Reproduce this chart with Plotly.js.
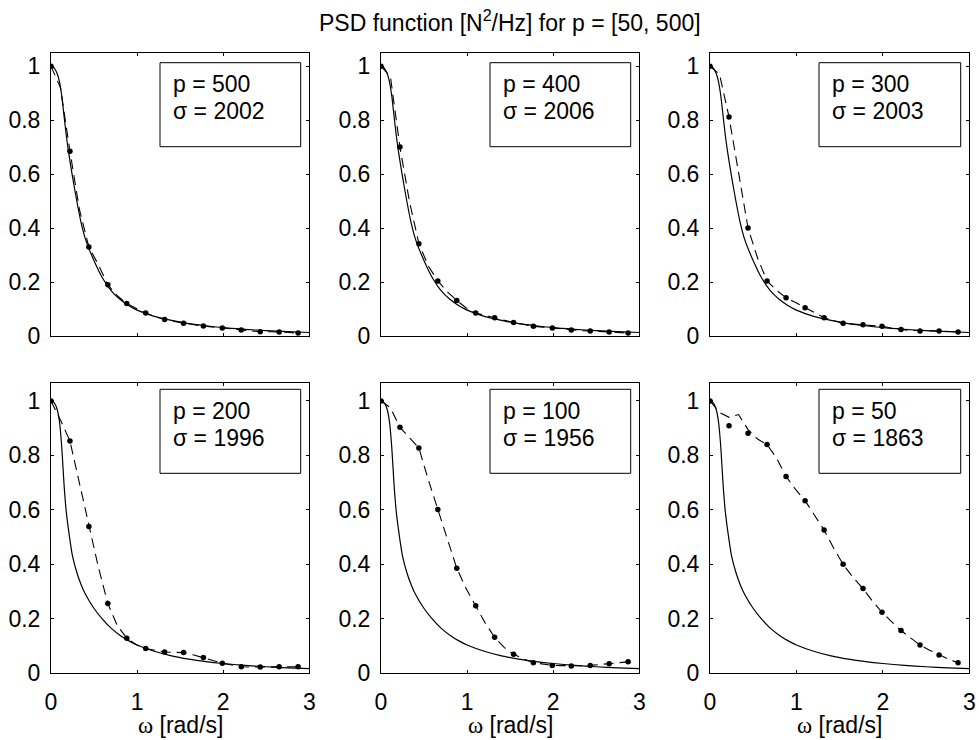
<!DOCTYPE html>
<html>
<head>
<meta charset="utf-8">
<script src="https://cdn.plot.ly/plotly-3.0.1.min.js"></script>
<style>html,body{margin:0;padding:0;background:#fff}#chart{width:979px;height:740px}</style>
</head>
<body>
<div id="chart"></div>
<script>
// ---------- data ----------
const pValues = [500, 400, 300, 200, 100, 50];
const sigmaValues = [2002, 2006, 2003, 1996, 1956, 1863];

// theoretical PSD (solid line)
const omegaTheory = [0,0.025,0.05,0.075,0.1,0.125,0.15,0.175,0.2,0.25,0.3,0.35,0.4,0.5,0.6,0.7,0.8,0.9,1.0,1.2,1.4,1.6,1.8,2.0,2.25,2.5,2.75,3.0];
const psdTheoryTop = [1,0.997,0.987,0.97,0.94,0.89,0.82,0.75,0.69,0.59,0.50,0.42,0.36,0.28,0.215,0.168,0.137,0.114,0.097,0.074,0.059,0.047,0.039,0.032,0.026,0.021,0.017,0.014];
const psdTheoryBottom = [1,0.997,0.987,0.965,0.92,0.83,0.70,0.60,0.535,0.43,0.37,0.325,0.29,0.238,0.198,0.165,0.14,0.12,0.104,0.081,0.064,0.052,0.043,0.036,0.029,0.024,0.020,0.017];

// estimated PSD (dashed line)
const omegaDash = [0,0.11,0.22,0.33,0.44,0.55,0.66,0.77,0.88,0.99,1.10,1.21,1.32,1.43,1.54,1.66,1.77,1.88,1.99,2.10,2.21,2.32,2.43,2.54,2.65,2.76,2.87];
const dashP500 = [1,0.92,0.685,0.47,0.331,0.265,0.191,0.150,0.121,0.102,0.086,0.073,0.062,0.055,0.048,0.043,0.038,0.034,0.031,0.027,0.023,0.020,0.017,0.017,0.016,0.014,0.012];
const dashP400 = [1,0.96,0.701,0.50,0.343,0.26,0.205,0.165,0.133,0.105,0.086,0.077,0.069,0.060,0.051,0.044,0.037,0.034,0.031,0.027,0.023,0.021,0.020,0.018,0.016,0.014,0.012];
const dashP300 = [1,0.97,0.812,0.60,0.401,0.29,0.205,0.17,0.143,0.125,0.106,0.086,0.069,0.058,0.048,0.045,0.043,0.040,0.037,0.031,0.025,0.022,0.020,0.020,0.020,0.018,0.016];
const dashP200 = [1,0.93,0.853,0.70,0.539,0.39,0.256,0.175,0.129,0.105,0.091,0.084,0.078,0.077,0.076,0.067,0.058,0.047,0.037,0.030,0.024,0.023,0.023,0.023,0.024,0.024,0.024];
const dashP100 = [1,0.975,0.903,0.865,0.827,0.71,0.601,0.49,0.386,0.31,0.248,0.185,0.132,0.095,0.070,0.052,0.039,0.033,0.029,0.028,0.027,0.028,0.029,0.032,0.035,0.039,0.042];
const dashP50  = [1,0.958,0.94,0.95,0.895,0.86,0.84,0.79,0.723,0.675,0.634,0.58,0.526,0.46,0.40,0.35,0.311,0.265,0.224,0.19,0.157,0.13,0.104,0.085,0.067,0.052,0.039];

// sampled estimates (dots)
const omegaDots = [0,0.22,0.44,0.66,0.88,1.10,1.32,1.54,1.77,1.99,2.21,2.43,2.65,2.87];
const dotsP500 = [1,0.685,0.331,0.191,0.121,0.086,0.062,0.048,0.038,0.031,0.023,0.017,0.016,0.012];
const dotsP400 = [1,0.701,0.343,0.205,0.133,0.086,0.069,0.051,0.037,0.031,0.023,0.020,0.016,0.012];
const dotsP300 = [1,0.812,0.401,0.205,0.143,0.106,0.069,0.048,0.043,0.037,0.025,0.020,0.020,0.016];
const dotsP200 = [1,0.853,0.539,0.256,0.129,0.091,0.078,0.076,0.058,0.037,0.024,0.023,0.024,0.024];
const dotsP100 = [1,0.903,0.827,0.601,0.386,0.248,0.132,0.070,0.039,0.029,0.027,0.029,0.035,0.042];
const dotsP50  = [1,0.909,0.881,0.84,0.723,0.634,0.526,0.40,0.311,0.224,0.157,0.104,0.067,0.039];

const yTickVals = [0,0.2,0.4,0.6,0.8,1];
const xTickVals = [0,1,2,3];
const titleText = 'PSD function [N<sup>2</sup>/Hz] for p = [50, 500]';
const xLabelText = '<span style="font-family:\'Liberation Serif\',serif">ω</span> [rad/s]';

// ---------- layout (pixels) ----------
const W = 979, H = 740;
const colsPx = [[51,309.3],[381,639.3],[710,969.3]];
const rowsPx = [[52.7,336.3],[382.7,673.3]];
const yMax = [1.05, 1.067];
const boxTop = [62.7, 389.3];
const FONT = "'Liberation Sans', Arial, Helvetica, sans-serif";
const FS = 23;

const dashSeries = [dashP500, dashP400, dashP300, dashP200, dashP100, dashP50];
const dotSeries = [dotsP500, dotsP400, dotsP300, dotsP200, dotsP100, dotsP50];

const px2x = v => v / W;
const px2y = v => 1 - v / H;

const traces = [];
const layout = {
  width: W, height: H,
  margin: {l:0, r:0, t:0, b:0},
  paper_bgcolor: '#fff', plot_bgcolor: '#fff',
  showlegend: false,
  font: {family: FONT, size: FS, color: '#000'},
  shapes: [], annotations: []
};

for (let i = 0; i < 6; i++) {
  const r = Math.floor(i / 3), c = i % 3;
  const n = i === 0 ? '' : String(i + 1);
  const xa = 'x' + n, ya = 'y' + n;
  const theory = r === 0 ? psdTheoryTop : psdTheoryBottom;

  traces.push({x: omegaTheory, y: theory, xaxis: xa, yaxis: ya, type: 'scatter', mode: 'lines',
    line: {color: '#000', width: 1.2, shape: 'spline', smoothing: 0.6}, hoverinfo: 'skip'});
  traces.push({x: omegaDash, y: dashSeries[i], xaxis: xa, yaxis: ya, type: 'scatter', mode: 'lines',
    line: {color: '#000', width: 1.1, dash: '10px,6px'}, hoverinfo: 'skip'});
  traces.push({x: omegaDots, y: dotSeries[i], xaxis: xa, yaxis: ya, type: 'scatter', mode: 'markers',
    marker: {color: '#000', size: 5.5}, hoverinfo: 'skip'});

  const [c0, c1] = colsPx[c], [r0, r1] = rowsPx[r];
  layout['xaxis' + n] = {
    domain: [px2x(c0), px2x(c1)], anchor: ya, range: [0, 3], tickvals: xTickVals,
    showticklabels: r === 1, ticks: 'inside', ticklen: 3, tickwidth: 1, tickcolor: '#000',
    showline: true, mirror: 'ticks', linecolor: '#000', linewidth: 1,
    showgrid: false, zeroline: false, ticklabelstandoff: 8,
    tickfont: {family: FONT, size: FS, color: '#000'}
  };
  layout['yaxis' + n] = {
    domain: [px2y(r1), px2y(r0)], anchor: xa, range: [0, yMax[r]], tickvals: yTickVals,
    ticks: 'inside', ticklen: 3, tickwidth: 1, tickcolor: '#000',
    showline: true, mirror: 'ticks', linecolor: '#000', linewidth: 1,
    showgrid: false, zeroline: false, ticklabelstandoff: 5,
    tickfont: {family: FONT, size: FS, color: '#000'}
  };

  // legend-like text box
  const bx0 = c0 + 109, bx1 = c1 - 8.6, by0 = boxTop[r], by1 = boxTop[r] + 84;
  layout.shapes.push({type: 'rect', xref: 'paper', yref: 'paper', layer: 'above',
    x0: px2x(bx0), x1: px2x(bx1), y0: px2y(by1), y1: px2y(by0),
    line: {color: '#000', width: 1}, fillcolor: '#fff'});
  const base1 = by0 + 29.5, base2 = base1 + 27;
  layout.annotations.push({xref: 'paper', yref: 'paper', x: px2x(bx0 + 11), y: px2y(base1 - 8),
    xanchor: 'left', yanchor: 'middle', showarrow: false, text: 'p = ' + pValues[i],
    font: {family: FONT, size: FS, color: '#000'}});
  layout.annotations.push({xref: 'paper', yref: 'paper', x: px2x(bx0 + 11), y: px2y(base2 - 8),
    xanchor: 'left', yanchor: 'middle', showarrow: false, text: 'σ = ' + sigmaValues[i],
    font: {family: FONT, size: FS, color: '#000'}});

  if (r === 1) {
    layout.annotations.push({xref: 'paper', yref: 'paper', x: px2x((c0 + c1) / 2), y: px2y(725),
      xanchor: 'center', yanchor: 'middle', showarrow: false, text: xLabelText,
      font: {family: FONT, size: FS, color: '#000'}});
  }
}

layout.annotations.push({xref: 'paper', yref: 'paper', x: px2x((colsPx[1][0] + colsPx[1][1]) / 2), y: px2y(21),
  xanchor: 'center', yanchor: 'middle', showarrow: false, text: titleText,
  font: {family: FONT, size: FS, color: '#000'}});

Plotly.newPlot('chart', traces, layout, {staticPlot: true, displayModeBar: false});
</script>
</body>
</html>
